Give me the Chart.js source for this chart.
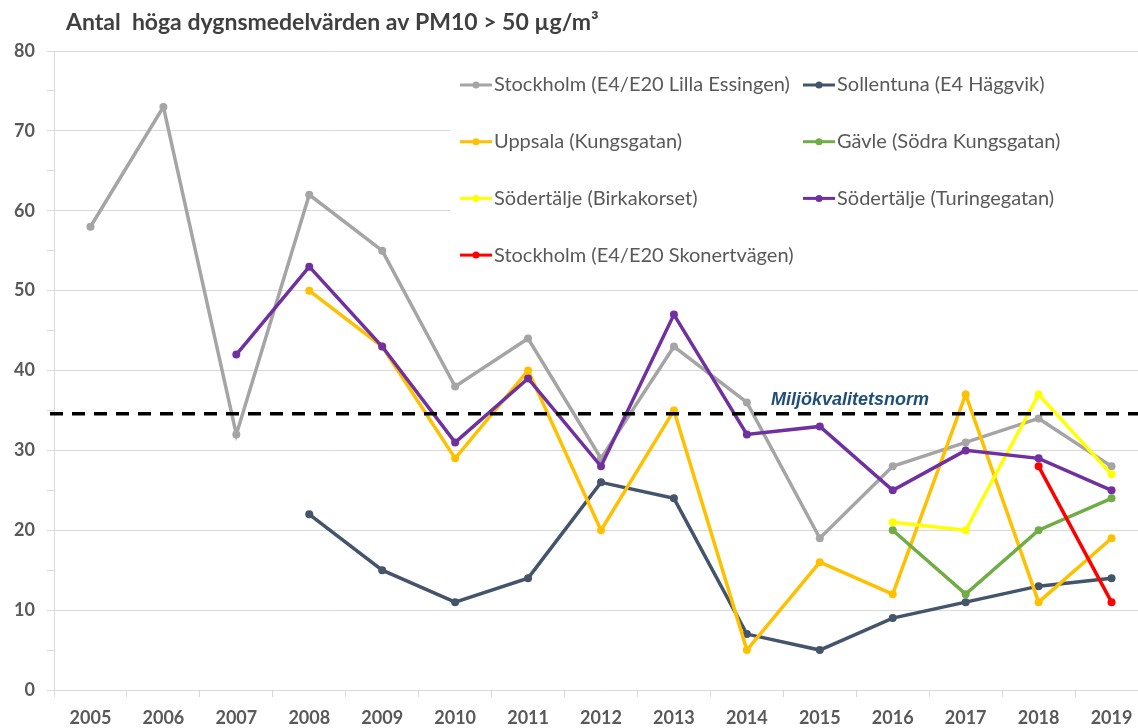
<!DOCTYPE html>
<html lang="sv">
<head>
<meta charset="utf-8">
<title>Antal höga dygnsmedelvärden av PM10</title>
<script src="https://cdn.jsdelivr.net/npm/chart.js@4.4.1/dist/chart.umd.min.js"></script>
<style>
    html, body {
        margin: 0;
        padding: 0;
        background: #ffffff;
        overflow: hidden;
    }
    .chart-wrap {
        width: 1138px;
        height: 728px;
        overflow: hidden;
    }
</style>
</head>
<body>
<div class="chart-wrap">
    <canvas id="pmChart" width="1152" height="728"></canvas>
</div>
<script>
// Chart data
const years = ['2005', '2006', '2007', '2008', '2009', '2010', '2011', '2012',
    '2013', '2014', '2015', '2016', '2017', '2018', '2019'];

const stockholmEssingen = [58, 73, 32, 62, 55, 38, 44, 29, 43, 36, 19, 28, 31, 34, 28];
const sollentunaHaggvik = [null, null, null, 22, 15, 11, 14, 26, 24, 7, 5, 9, 11, 13, 14];
const uppsalaKungsgatan = [null, null, null, 50, 43, 29, 40, 20, 35, 5, 16, 12, 37, 11, 19];
const gavleKungsgatan = [null, null, null, null, null, null, null, null, null, null, null, 20, 12, 20, 24];
const sodertaljeBirka = [null, null, null, null, null, null, null, null, null, null, null, 21, 20, 37, 27];
const sodertaljeTuringe = [null, null, 42, 53, 43, 31, 39, 28, 47, 32, 33, 25, 30, 29, 25];
const stockholmSkonert = [null, null, null, null, null, null, null, null, null, null, null, null, null, 28, 11];

const seriesLabels = [
    'Stockholm (E4/E20 Lilla Essingen)',
    'Sollentuna (E4 Häggvik)',
    'Uppsala (Kungsgatan)',
    'Gävle (Södra Kungsgatan)',
    'Södertälje (Birkakorset)',
    'Södertälje (Turingegatan)',
    'Stockholm (E4/E20 Skonertvägen)'
];
const seriesColors = ['#A5A5A5', '#44546A', '#FFC000', '#70AD47', '#FFFF00', '#7030A0', '#FF0000'];
const seriesValues = [stockholmEssingen, sollentunaHaggvik, uppsalaKungsgatan, gavleKungsgatan,
    sodertaljeBirka, sodertaljeTuringe, stockholmSkonert];

const yTicks = [0, 10, 20, 30, 40, 50, 60, 70, 80];
const normValue = 34.6;
const normLabel = 'Miljökvalitetsnorm';
const chartTitle = 'Antal  höga dygnsmedelvärden av PM10 > 50 µg/m³';

const gridColor = '#D9D9D9';
const textColor = '#595959';

// Title, norm line and legend box drawn on top of the plot
const overlayPlugin = {
    id: 'overlay',
    afterDatasetsDraw(chart) {
        const { ctx, chartArea, scales } = chart;
        const yNorm = scales.y.getPixelForValue(normValue);

        ctx.save();

        // Norm line (dashed)
        ctx.strokeStyle = '#000000';
        ctx.lineWidth = 3.5;
        ctx.setLineDash([13, 9]);
        ctx.beginPath();
        ctx.moveTo(chartArea.left - 4, yNorm);
        ctx.lineTo(chart.width, yNorm);
        ctx.stroke();
        ctx.setLineDash([]);

        ctx.fillStyle = '#1F4E79';
        ctx.font = 'italic bold 18px "Liberation Sans", Arial, sans-serif';
        ctx.textBaseline = 'middle';
        ctx.textAlign = 'left';
        ctx.fillText(normLabel, 771, yNorm - 14);

        // Title
        ctx.fillStyle = '#404040';
        ctx.font = 'bold 23px Lato, sans-serif';
        ctx.fillText(chartTitle, 66, 23);

        // Legend with white background
        ctx.fillStyle = '#ffffff';
        ctx.fillRect(450, 60, chart.width - 450, 222);

        ctx.font = '20px Lato, sans-serif';
        seriesLabels.forEach((label, i) => {
            const col = i % 2;
            const row = Math.floor(i / 2);
            const x = col === 0 ? 460 : 803;
            const y = 85 + row * 56.7;
            ctx.strokeStyle = seriesColors[i];
            ctx.lineWidth = 3;
            ctx.beginPath();
            ctx.moveTo(x, y);
            ctx.lineTo(x + 32, y);
            ctx.stroke();
            ctx.fillStyle = seriesColors[i];
            ctx.beginPath();
            ctx.arc(x + 16, y, 3.5, 0, Math.PI * 2);
            ctx.fill();
            ctx.fillStyle = textColor;
            ctx.fillText(label, x + 34, y);
        });

        ctx.restore();
    }
};

// Build the datasets
function buildDatasets() {
    return seriesValues.map((values, i) => ({
        label: seriesLabels[i],
        data: values,
        borderColor: seriesColors[i],
        backgroundColor: seriesColors[i],
        borderWidth: 3.5,
        pointRadius: 4,
        pointHoverRadius: 4,
        pointBorderWidth: 0,
        tension: 0,
        // Excel draws the first series at the bottom
        order: seriesValues.length - i
    }));
}

function initializeChart() {
    const ctx = document.getElementById('pmChart');

    new Chart(ctx, {
        type: 'line',
        data: {
            labels: years,
            datasets: buildDatasets()
        },
        options: {
            responsive: false,
            animation: false,
            layout: {
                padding: { top: 51, right: 2, bottom: 0, left: 0 }
            },
            plugins: {
                legend: { display: false },
                tooltip: { enabled: false },
                title: { display: false }
            },
            scales: {
                x: {
                    offset: true,
                    grid: {
                        offset: true,
                        drawOnChartArea: false,
                        color: gridColor,
                        tickLength: 7
                    },
                    border: { display: true, color: gridColor },
                    ticks: {
                        color: textColor,
                        font: { family: 'Lato', size: 18, weight: 'bold' },
                        padding: 10,
                        maxRotation: 0
                    },
                    afterFit(scale) {
                        scale.height = 38;
                    }
                },
                y: {
                    min: 0,
                    max: 80,
                    grid: {
                        color: (c) => (c.tick && c.tick.value % 10 === 0 ? gridColor : 'rgba(0,0,0,0)'),
                        tickColor: gridColor,
                        tickLength: 7
                    },
                    border: { display: true, color: gridColor },
                    ticks: {
                        stepSize: 5,
                        color: textColor,
                        font: { family: 'Lato', size: 18, weight: 'bold' },
                        padding: 12,
                        callback: (value) => (yTicks.includes(value) ? value : '')
                    },
                    afterFit(scale) {
                        scale.width = 54;
                    }
                }
            }
        },
        plugins: [overlayPlugin]
    });
}

document.addEventListener('DOMContentLoaded', () => {
    initializeChart();
});
</script>
</body>
</html>
